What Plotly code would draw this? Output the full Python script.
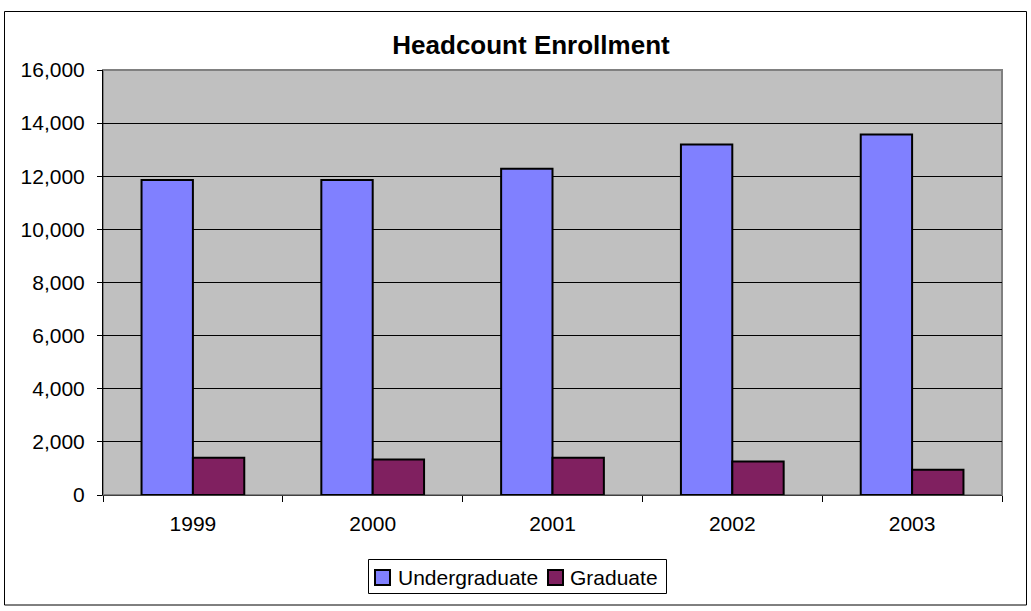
import plotly.graph_objects as go

years = ["1999", "2000", "2001", "2002", "2003"]
undergraduate = [11860, 11860, 12280, 13200, 13570]
graduate = [1400, 1340, 1400, 1260, 950]
series_names = ["Undergraduate", "Graduate"]
series_colors = ["#8080FF", "#802060"]

FONT = "Liberation Sans, Arial, sans-serif"

fig = go.Figure()
for name, vals, col in zip(series_names, [undergraduate, graduate], series_colors):
    fig.add_trace(go.Bar(x=years, y=vals, name=name,
                         marker=dict(color=col, line=dict(color="black", width=2))))

# plot-area geometry (pixels) for converting page positions to paper coords
L, R, T, B = 103, 1002, 70, 495
W, H = R - L, B - T


def px(x):
    return (x - L) / W


def py(y):
    return (B - y) / H


shapes = [
    dict(type="rect", xref="paper", yref="paper", x0=0, x1=1, y0=0, y1=1,
         line=dict(color="#808080", width=2), layer="below"),
    dict(type="rect", xref="paper", yref="paper",
         x0=px(4.5), x1=px(1026.5), y0=py(605), y1=py(11.5),
         line=dict(color="black", width=1), layer="below"),
    # legend box
    dict(type="rect", xref="paper", yref="paper",
         x0=px(368.5), x1=px(666.5), y0=py(593.5), y1=py(559.5),
         line=dict(color="black", width=1), fillcolor="white"),
]
annotations = []
legend_items = [(375, 396), (548, 568)]
for (sx, tx), name, col in zip(legend_items, series_names, series_colors):
    shapes.append(dict(type="rect", xref="paper", yref="paper",
                       x0=px(sx), x1=px(sx + 15), y0=py(585), y1=py(570),
                       line=dict(color="black", width=2), fillcolor=col))
    annotations.append(dict(text=name, xref="paper", yref="paper", x=px(tx), y=py(577),
                            xanchor="left", yanchor="middle", showarrow=False,
                            font=dict(family=FONT, size=21, color="black")))

fig.update_layout(
    width=1031, height=611,
    margin=dict(l=L, r=1031 - R, t=T, b=611 - B),
    paper_bgcolor="white", plot_bgcolor="#C0C0C0",
    font=dict(family=FONT, size=21, color="black"),
    barmode="group", bargap=0.4286, bargroupgap=0,
    title=dict(text="<b>Headcount Enrollment</b>", x=px(531), xref="paper", xanchor="center",
               y=1 - 45 / 611, yref="container", yanchor="middle",
               font=dict(family=FONT, size=26, color="black")),
    showlegend=False,
    xaxis=dict(showgrid=False, showline=True, linecolor="#404040", linewidth=1,
               ticks="outside", tickson="boundaries", ticklen=6, tickcolor="black",
               ticklabelstandoff=10,
               tickfont=dict(family=FONT, size=21, color="black")),
    yaxis=dict(range=[0, 16000], dtick=2000, tickformat=",", showgrid=True,
               gridcolor="black", gridwidth=1, showline=True, linecolor="black",
               linewidth=1, ticks="outside", ticklen=5, tickcolor="black",
               zeroline=False, ticklabelstandoff=8,
               tickfont=dict(family=FONT, size=21, color="black")),
    shapes=shapes,
    annotations=annotations,
)

fig.write_html("out.html", config={"displayModeBar": False},
               post_script="document.body.style.margin='0';document.body.style.overflow='hidden';")
